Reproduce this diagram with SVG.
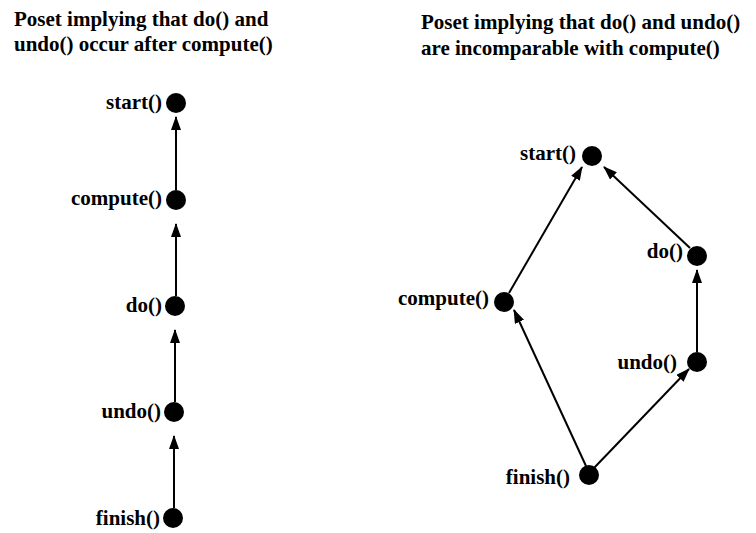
<svg xmlns="http://www.w3.org/2000/svg" width="756" height="533" viewBox="0 0 756 533">
  <style>
    text { font-family: "Liberation Serif", "Times New Roman", serif; font-size: 21px; font-weight: bold; fill: #000; }
    .lbl { text-anchor: end; }
    .dot { fill: #000; }
    .edge { stroke: #000; stroke-width: 2; fill: none; marker-end: url(#arrow); }
  </style>
  <defs>
    <marker id="arrow" markerUnits="userSpaceOnUse" markerWidth="14" markerHeight="10" refX="13" refY="5" orient="auto">
      <path d="M0,0 L14,5 L0,10 Z" fill="#000"/>
    </marker>
  </defs>

  <!-- Titles -->
  <text x="14" y="26">Poset implying that do() and</text>
  <text x="14" y="51">undo() occur after compute()</text>
  <text x="421" y="29" font-size="20.7">Poset implying that do() and undo()</text>
  <text x="421" y="55" font-size="20.7">are incomparable with compute()</text>

  <!-- Connectors -->
  <g id="connectors">
    <!-- total order, left -->
    <line class="edge" x1="176" y1="190" x2="176" y2="117"/>
    <line class="edge" x1="176" y1="296" x2="176" y2="224"/>
    <line class="edge" x1="175" y1="402" x2="175" y2="330"/>
    <line class="edge" x1="174" y1="508" x2="174" y2="436"/>
    <!-- partial order, right -->
    <line class="edge" x1="509" y1="293" x2="582" y2="167"/>
    <line class="edge" x1="690" y1="248" x2="604" y2="167"/>
    <line class="edge" x1="697" y1="352" x2="697" y2="270"/>
    <line class="edge" x1="586" y1="466" x2="514" y2="310"/>
    <line class="edge" x1="594" y1="468" x2="689" y2="369"/>
  </g>

  <!-- Left poset nodes -->
  <g id="l-start"><circle class="dot" cx="176" cy="103" r="10"/><text class="lbl" x="162" y="109">start()</text></g>
  <g id="l-compute"><circle class="dot" cx="176" cy="200" r="10"/><text class="lbl" x="162" y="205">compute()</text></g>
  <g id="l-do"><circle class="dot" cx="175" cy="306" r="10"/><text class="lbl" x="162" y="312">do()</text></g>
  <g id="l-undo"><circle class="dot" cx="174" cy="412" r="10"/><text class="lbl" x="161" y="418">undo()</text></g>
  <g id="l-finish"><circle class="dot" cx="173" cy="518" r="10"/><text class="lbl" x="160" y="525">finish()</text></g>

  <!-- Right poset nodes -->
  <g id="r-start"><circle class="dot" cx="592" cy="156" r="10"/><text class="lbl" x="576" y="160">start()</text></g>
  <g id="r-compute"><circle class="dot" cx="504" cy="302" r="10"/><text class="lbl" x="489" y="305">compute()</text></g>
  <g id="r-do"><circle class="dot" cx="697" cy="256" r="10"/><text class="lbl" x="683" y="258">do()</text></g>
  <g id="r-undo"><circle class="dot" cx="697" cy="362" r="10"/><text class="lbl" x="677" y="369">undo()</text></g>
  <g id="r-finish"><circle class="dot" cx="589" cy="475" r="10"/><text class="lbl" x="570" y="484">finish()</text></g>
</svg>
